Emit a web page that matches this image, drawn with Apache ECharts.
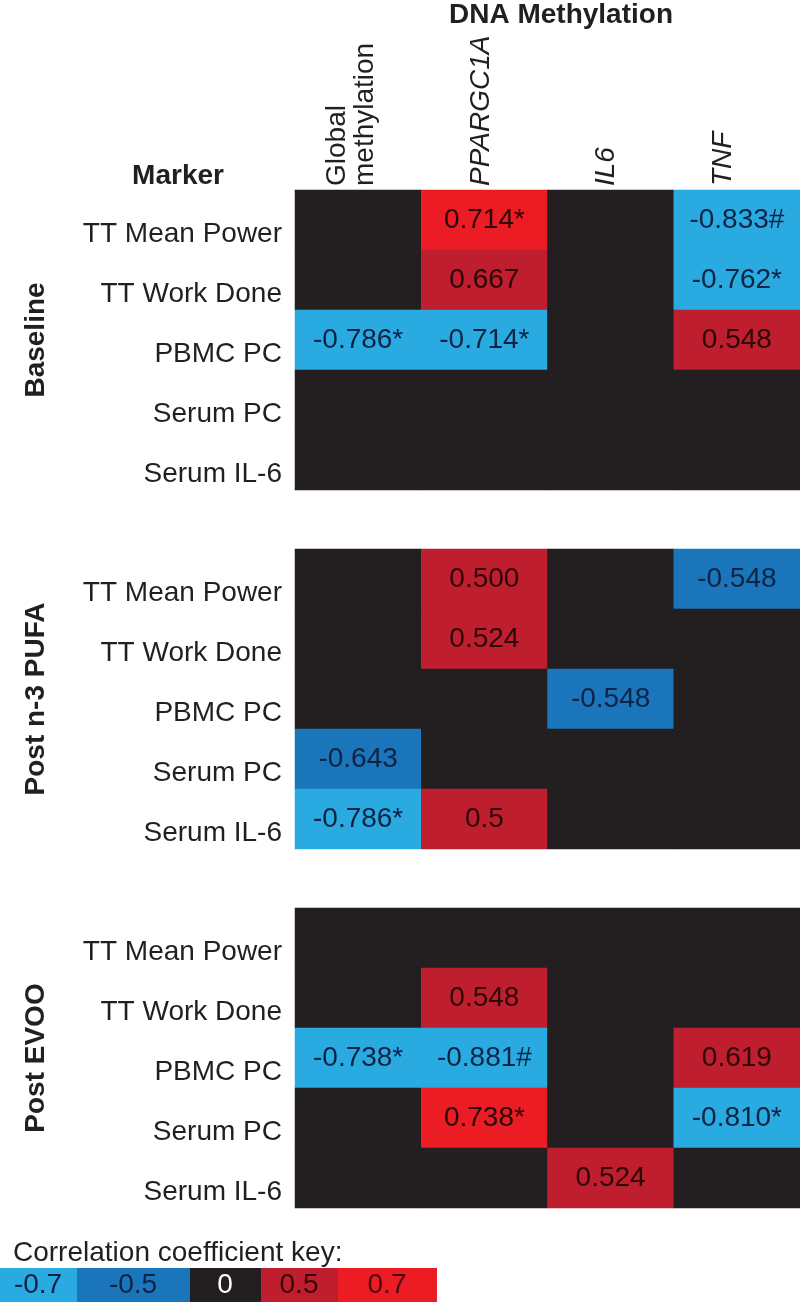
<!DOCTYPE html>
<html>
<head>
<meta charset="utf-8">
<script src="https://cdn.jsdelivr.net/npm/echarts@6/dist/echarts.min.js"></script>
<style>html,body{margin:0;padding:0;background:#fff}#c{width:800px;height:1302px}</style>
</head>
<body>
<div id="c"></div>
<script>
// ---- data ----
var columns = ['Global\nmethylation', 'PPARGC1A', 'IL6', 'TNF'];
var italicColumns = [false, true, true, true];
var rows = ['TT Mean Power', 'TT Work Done', 'PBMC PC', 'Serum PC', 'Serum IL-6'];
var panels = ['Baseline', 'Post n-3 PUFA', 'Post EVOO'];

var baseline = [
  ['', '0.714*', '', '-0.833#'],
  ['', '0.667', '', '-0.762*'],
  ['-0.786*', '-0.714*', '', '0.548'],
  ['', '', '', ''],
  ['', '', '', '']
];
var postPufa = [
  ['', '0.500', '', '-0.548'],
  ['', '0.524', '', ''],
  ['', '', '-0.548', ''],
  ['-0.643', '', '', ''],
  ['-0.786*', '0.5', '', '']
];
var postEvoo = [
  ['', '', '', ''],
  ['', '0.548', '', ''],
  ['-0.738*', '-0.881#', '', '0.619'],
  ['', '0.738*', '', '-0.810*'],
  ['', '', '0.524', '']
];
var keyLabels = ['-0.7', '-0.5', '0', '0.5', '0.7'];
var keyColors = ['#29aae1', '#1b75bb', '#231f20', '#be1e2d', '#ec1c24'];
var keyTextColors = ['#0f2444', '#0f2444', '#ffffff', '#3a0508', '#4a0a0c'];

// ---- build ----
var FONT = '"Liberation Sans", Arial, Helvetica, sans-serif';
var headerShift = [13, 6, 8, 28]; // label nudges (layout only)
var panelData = [baseline, postPufa, postEvoo];
var grids = [], xAxes = [], yAxes = [], series = [];
var gridTops = [190, 549, 908];

var rich = {};
columns.forEach(function (c, i) {
  rich['c' + i] = {fontFamily: FONT, fontSize: 28, color: '#231f20', fontStyle: italicColumns[i] ? 'italic' : 'normal'};
  rich['p' + i] = {fontFamily: FONT, fontSize: 28, color: '#231f20', fontStyle: italicColumns[i] ? 'italic' : 'normal', padding: [0, 0, headerShift[i], 0]};
});

panelData.forEach(function (mat, p) {
  grids.push({left: 295, right: 0, top: gridTops[p], height: 300, show: true, backgroundColor: keyColors[2], borderWidth: 0});
  xAxes.push({
    type: 'category', gridIndex: p, data: columns, position: 'top',
    show: p === 0,
    axisLine: {show: false}, axisTick: {show: false}, splitLine: {show: false},
    axisLabel: {
      show: p === 0, rotate: -90, interval: 0, margin: 4,
      fontFamily: FONT, fontSize: 28, color: '#231f20',
      formatter: function (v, i) {
        var parts = v.split('\n');
        return parts.map(function (s, k) {
          var st = (k === parts.length - 1 ? 'p' : 'c') + i;
          return '{' + st + '|' + s + '}';
        }).join('\n');
      },
      rich: rich
    }
  });
  yAxes.push({
    type: 'category', gridIndex: p, data: rows, inverse: true,
    name: panels[p], nameLocation: 'middle', nameRotate: 90, nameGap: 245,
    nameTextStyle: {fontFamily: FONT, fontSize: 28, fontWeight: 'bold', color: '#231f20'},
    axisLine: {show: false}, axisTick: {show: false}, splitLine: {show: false},
    axisLabel: {
      interval: 0, margin: 13, fontFamily: FONT, fontSize: 28, color: '#231f20',
      verticalAlign: 'top'
    }
  });
  var data = [];
  mat.forEach(function (row, r) {
    row.forEach(function (txt, c) {
      var v = txt === '' ? 0 : parseFloat(txt);
      data.push({
        value: [c, r, v],
        label: {
          show: txt !== '', formatter: txt,
          color: v < 0 ? '#0f2444' : '#2e0708'
        }
      });
    });
  });
  series.push({
    type: 'heatmap', xAxisIndex: p, yAxisIndex: p, data: data,
    label: {show: true, fontFamily: FONT, fontSize: 28},
    itemStyle: {borderWidth: 0},
    emphasis: {disabled: true}
  });
});

var graphics = [
  {type: 'text', style: {text: 'DNA Methylation', x: 561, y: 15, textAlign: 'center', textVerticalAlign: 'middle', font: 'bold 28px ' + FONT, fill: '#231f20'}},
  {type: 'text', style: {text: 'Marker', x: 178, y: 176, textAlign: 'center', textVerticalAlign: 'middle', font: 'bold 28px ' + FONT, fill: '#231f20'}},
  {type: 'text', style: {text: 'Correlation coefficient key:', x: 13, y: 1253, textAlign: 'left', textVerticalAlign: 'middle', font: '28px ' + FONT, fill: '#231f20'}}
];
var keyEdges = [0, 77, 190, 261, 338, 437];
var keyTextX = [38, 133, 225, 299, 387];
keyLabels.forEach(function (lab, i) {
  graphics.push({type: 'rect', shape: {x: keyEdges[i], y: 1268, width: keyEdges[i + 1] - keyEdges[i], height: 34}, style: {fill: keyColors[i]}});
  graphics.push({type: 'text', style: {text: lab, x: keyTextX[i], y: 1285, textAlign: 'center', textVerticalAlign: 'middle', font: '28px ' + FONT, fill: keyTextColors[i]}});
});

var chart = echarts.init(document.getElementById('c'), null, {renderer: 'canvas'});
chart.setOption({
  animation: false,
  backgroundColor: '#ffffff',
  grid: grids, xAxis: xAxes, yAxis: yAxes,
  visualMap: {
    show: false, type: 'piecewise', seriesIndex: [0, 1, 2], dimension: 2,
    pieces: [
      {lt: -0.7, color: keyColors[0]},
      {gte: -0.7, lt: 0, color: keyColors[1]},
      {value: 0, color: keyColors[2]},
      {gt: 0, lt: 0.7, color: keyColors[3]},
      {gte: 0.7, color: keyColors[4]}
    ]
  },
  graphic: graphics,
  series: series
});
</script>
</body>
</html>
